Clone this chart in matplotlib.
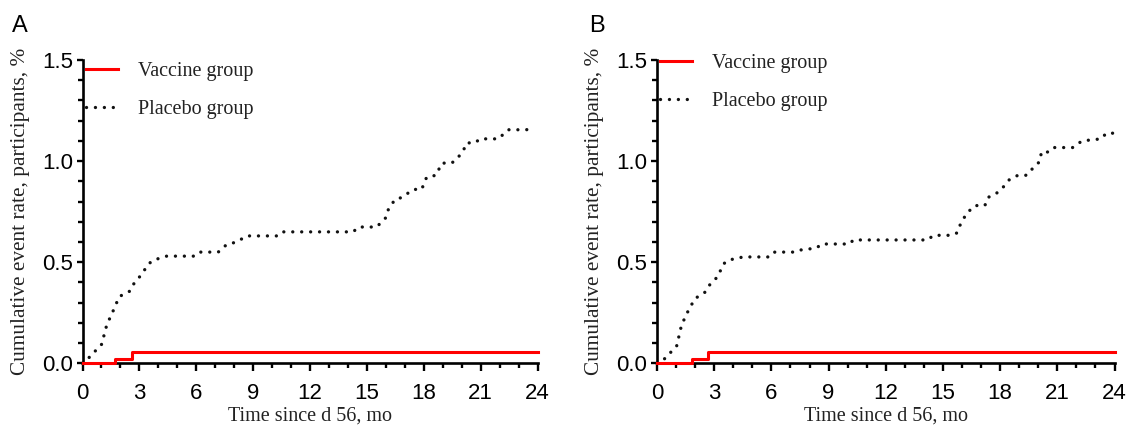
import matplotlib
matplotlib.use("Agg")
import matplotlib.pyplot as plt
from matplotlib.ticker import MultipleLocator

# ---------------- data ----------------
panel_labels = ["A", "B"]
series_labels = ["Vaccine group", "Placebo group"]

# Panel A
vaccine_a_t = [0, 1.71, 2.6, 24.0]
vaccine_a_v = [0, 0.02, 0.058, 0.058]
placebo_a_t = [0, 0.22, 1.01, 1.28, 1.62, 1.94, 2.5, 2.68, 3.12, 3.47, 3.73, 4.44,
               5.93, 6.2, 7.16, 7.6, 8.13, 8.66, 10.24, 10.5, 14.28, 14.55, 15.52,
               15.78, 16.0, 16.13, 16.48, 16.84, 17.45, 17.89, 18.15, 18.65, 18.95,
               19.47, 19.74, 20.08, 20.26, 20.7, 20.97, 21.93, 22.46, 23.43, 23.65]
placebo_a_v = [0, 0.016, 0.094, 0.19, 0.26, 0.33, 0.357, 0.39, 0.44, 0.49, 0.51, 0.53,
               0.53, 0.55, 0.55, 0.587, 0.60, 0.63, 0.63, 0.65, 0.65, 0.674, 0.674,
               0.70, 0.72, 0.76, 0.81, 0.82, 0.86, 0.86, 0.92, 0.93, 0.99,
               0.99, 1.01, 1.05, 1.09, 1.09, 1.11, 1.11, 1.155, 1.155, 1.18]

# Panel B
vaccine_b_t = [0, 1.82, 2.69, 24.0]
vaccine_b_v = [0, 0.02, 0.058, 0.058]
placebo_b_t = [0, 0.33, 1.03, 1.29, 1.64, 1.99, 2.5, 2.78, 3.2, 3.47, 3.74, 4.52,
               5.92, 6.18, 7.23, 7.5, 8.37, 8.63, 10.1, 10.3, 14.2, 14.5, 15.45,
               15.74, 15.88, 16.23, 16.67, 17.2, 17.36, 17.8, 18.15, 18.5, 18.94,
               19.38, 19.72, 20.1, 20.16, 20.6, 20.86, 21.8, 22.3, 23.3, 23.57, 24.0]
placebo_b_v = [0, 0.016, 0.085, 0.19, 0.26, 0.32, 0.35, 0.39, 0.43, 0.49, 0.51, 0.526,
               0.526, 0.55, 0.55, 0.56, 0.57, 0.59, 0.59, 0.61, 0.61, 0.633, 0.633,
               0.645, 0.68, 0.74, 0.78, 0.78, 0.82, 0.84, 0.87, 0.91, 0.93,
               0.93, 0.965, 1.0, 1.045, 1.045, 1.067, 1.067, 1.10, 1.11, 1.138, 1.138]

x_ticks = [0, 3, 6, 9, 12, 15, 18, 21, 24]
y_ticks = [0.0, 0.5, 1.0, 1.5]
x_label = "Time since d 56, mo"
y_label = "Cumulative event rate, participants, %"

# ---------------- figure ----------------
W, H = 1127, 429
fig = plt.figure(figsize=(W / 100, H / 100), dpi=100)

def px_axes(left, right, top, bottom):
    return [left / W, 1 - bottom / H, (right - left) / W, (bottom - top) / H]

panels = [
    dict(rect=px_axes(82.5, 537.5, 60, 363.3), vt=vaccine_a_t, vv=vaccine_a_v,
         pt=placebo_a_t, pv=placebo_a_v, leg=(0.0077, 0.993), letter_x=12),
    dict(rect=px_axes(657, 1114.5, 60, 363.3), vt=vaccine_b_t, vv=vaccine_b_v,
         pt=placebo_b_t, pv=placebo_b_v, leg=(0.0066, 1.02), letter_x=589),
]

sans = "Liberation Sans"
serif = "Liberation Serif"

for letter, p in zip(panel_labels, panels):
    ax = fig.add_axes(p["rect"])
    lv, = ax.plot(p["vt"], p["vv"], drawstyle="steps-post", color="#ff0000",
                  lw=2.2, clip_on=False, zorder=5, label=series_labels[0])
    lp, = ax.plot(p["pt"], p["pv"], color="#111111", lw=2.4,
                  linestyle=(0, (0.01, 2.67)), dash_capstyle="round",
                  clip_on=False, zorder=4, label=series_labels[1])
    ax.set_xlim(0, 24)
    ax.set_ylim(0, 1.5)
    for s in ["top", "right"]:
        ax.spines[s].set_visible(False)
    for s in ["left", "bottom"]:
        ax.spines[s].set_linewidth(1.9)
        ax.spines[s].set_color("black")
    ax.set_xticks(x_ticks)
    ax.set_yticks(y_ticks)
    ax.set_yticklabels([f"{v:.1f}" for v in y_ticks])
    ax.xaxis.set_minor_locator(MultipleLocator(1))
    ax.yaxis.set_minor_locator(MultipleLocator(0.1))
    ax.tick_params(which="major", direction="out", width=1.7,
                   labelsize=16, color="black")
    ax.tick_params(axis="x", which="major", length=6, pad=8)
    ax.tick_params(axis="y", which="major", length=4.5, pad=2.5)
    ax.tick_params(which="minor", direction="out", length=3.5, width=1.7, color="black")
    for lab in ax.get_xticklabels() + ax.get_yticklabels():
        lab.set_fontfamily(sans)
    ax.set_xlabel(x_label, fontfamily=serif, fontsize=14.5, color="#222222")
    ax.xaxis.set_label_coords(0.5, -0.142)
    ax.set_ylabel(y_label, fontfamily=serif, fontsize=15.3, color="#222222")
    ax.yaxis.set_label_coords(-0.116, 0.5)
    leg = ax.legend(handles=[lv, lp], loc="upper left", bbox_to_anchor=p["leg"],
                    frameon=False, borderpad=0, borderaxespad=0,
                    handlelength=1.6, handletextpad=1.0, labelspacing=0.93,
                    prop=dict(family=serif, size=14.5))
    for t in leg.get_texts():
        t.set_color("#222222")
    fig.text(p["letter_x"] / W, 1 - 32.3 / H, letter, fontfamily=sans,
             fontsize=17, va="baseline", ha="left")

fig.savefig("out.png", dpi=100)
